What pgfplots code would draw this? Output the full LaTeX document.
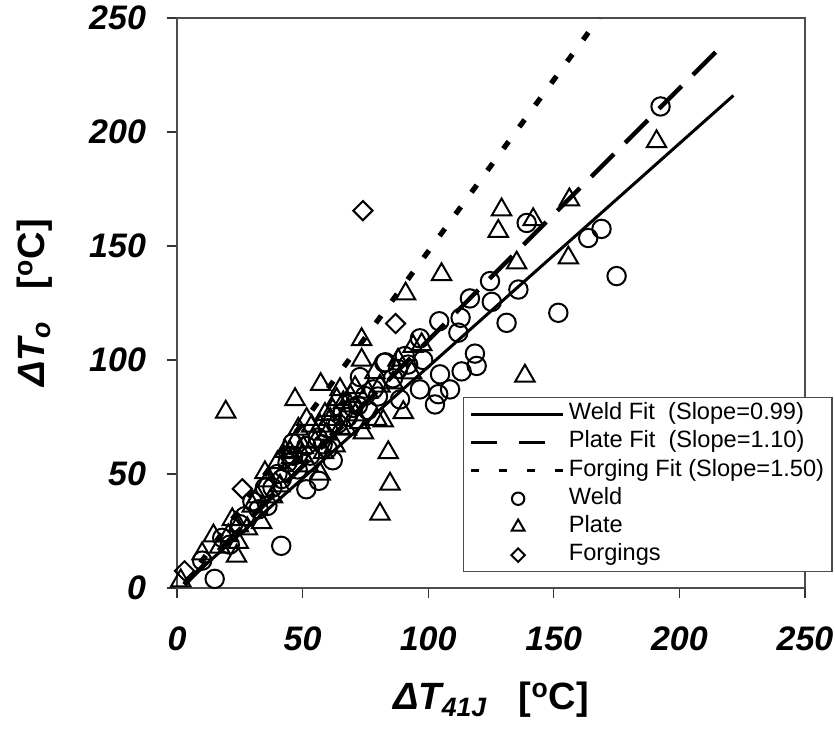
\documentclass[border=0pt]{standalone}
\usepackage{fontspec}
\setmainfont{Liberation Sans}
\usepackage{pgfplots}
\pgfplotsset{compat=1.18}
\pgfplotsset{
  markleg/.style={legend image code/.code={\draw[##1, mark size=#1] plot coordinates {(23.5pt,0pt)};}},
}

\begin{document}
\begin{tikzpicture}
\begin{axis}[
    width=314pt, height=285pt, scale only axis,
    xmin=0, xmax=250, ymin=0, ymax=250,
    xtick={0,50,...,250}, ytick={0,50,...,250},
    tick pos=left, tick align=outside,
    major tick length=5pt,
    axis line style={black!70, line width=0.6pt},
    every tick/.style={black!80, line width=0.6pt},
    /pgf/number format/assume math mode=true,
    tick label style={font=\fontsize{17}{18}\selectfont\bfseries\itshape},
    yticklabel style={xshift=-7pt},
    xticklabel style={yshift=-11pt},
    xlabel={\fontsize{19}{21}\selectfont\bfseries\itshape ΔT\textsubscript{41J}\upshape\ \ \ [\textsuperscript{o}C]},
    ylabel={\fontsize{19}{21}\selectfont\bfseries\itshape ΔT\textsubscript{o}\upshape\ \ \ [\textsuperscript{o}C]},
    xlabel style={at={(0.5,0)}, anchor=center, yshift=-56pt},
    ylabel style={at={(0,0.5)}, anchor=center, yshift=71pt},
    legend cell align=left,
    legend style={
        at={(0.455,0.335)}, anchor=north west,
        draw=black!70, line width=0.6pt,
        font=\fontsize{11.8}{12}\selectfont,
        inner xsep=3pt, inner ysep=2pt,
        row sep=1.6pt,
        nodes={inner sep=1pt, text height=8pt, text depth=2.5pt},
    },
]

% fitted lines
\addplot[black, line width=1.5pt,
    legend image code/.code={\draw[black, line width=1.5pt] (0pt,0pt) -- (46pt,0pt);}]
    coordinates {(3,2) (221.5,216)};
\addlegendentry{Weld Fit\ \ (Slope=0.99)}

\addplot[black, line width=2.2pt, dash pattern=on 16pt off 8pt,
    legend image code/.code={\draw[black, line width=1.8pt, dash pattern=on 13pt off 11pt] (0pt,0pt) -- (37pt,0pt);}]
    coordinates {(3,1.5) (218,239)};
\addlegendentry{Plate Fit\ \ (Slope=1.10)}

\addplot[black, line width=2.6pt, dash pattern=on 4.5pt off 9pt,
    legend image code/.code={\draw[black, line width=1.8pt, dash pattern=on 4pt off 10pt] (0pt,0pt) -- (47pt,0pt);}]
    coordinates {(3,1.5) (168,250)};
\addlegendentry{Forging Fit (Slope=1.50)}

% Weld
\addplot[only marks, mark=o, mark size=4.6pt,
    mark options={fill=white, draw=black, line width=1pt},
    markleg=3.1pt]
    coordinates {
    (15,4) (41.5,18.5) (21,19) (27,31.5) (32.5,34.5) (46,63.5) (51.5,62.3)
    (51.5,43.3) (56.5,47) (41.7,47.8) (46.3,58) (38,44) (56,66) (62,56)
    (72.8,92.5) (74.8,84.2) (70.2,79) (78.2,87.1) (82.5,98.8) (88.8,82.7)
    (90.7,101.7) (96.7,109.5) (96.7,87.1) (102.7,80.5) (104,85) (104.4,117)
    (104.7,93.7) (108.7,87.1) (112,112) (112.9,118.5) (113.3,95) (116.6,127)
    (118.6,102.8) (119.3,97.4) (124.6,134.6) (125.3,125.5) (131.2,116.3)
    (135.9,130.9) (139.2,160.1) (151.8,120.7) (163.7,153.5) (169,157.5)
    (175,136.8) (192.5,211.2) (83,99) (66,77)
    (30,38) (35,44) (40,50) (44,55) (48,52) (53,58) (58,63) (60,70) (64,72)
    (68,75) (72,80) (76,78) (80,84) (86,92) (88,96) (92,98) (98,100)
    (25,28) (18,22) (10,12) (36,36) (60,61)
    };
\addlegendentry{Weld}

% Plate
\addplot[only marks, mark=triangle, mark size=5.6pt,
    mark options={fill=white, draw=black, line width=1pt},
    markleg=3.7pt]
    coordinates {
    (1.5,3.2) (14.5,22.9) (23.7,14) (24.4,20) (20.4,23) (24.4,27.3) (28,26)
    (33.7,28.7) (35,50.6) (41,44.8) (38,40) (45,59.4) (47,82.7) (48.3,69.7)
    (50.3,61.6) (51.6,74) (52.3,53.6) (53.6,71) (45.6,57.2) (57.2,89.3)
    (58.3,59.4) (58.9,76.2) (59.6,67.5) (62.9,62.4) (63.6,82.7) (64.9,87.1)
    (66.2,81.3) (67.5,69.7) (68.9,79.9) (70.9,87.9) (72.8,72.6) (73.5,100)
    (73.5,109) (74.2,68.1) (78.8,94.5) (79.5,74) (80.8,32.4) (80.8,88.6)
    (82.1,73.3) (84.1,59.4) (84.8,45.6) (90.1,77) (91,129) (93.4,94.4)
    (94,106) (97.4,106.8) (105.3,137.5) (127.9,156.5) (129.2,165.9)
    (135.2,142.6) (138.5,93) (141.8,161.6) (155.8,144.8) (156.2,170.3)
    (190.9,195.8) (19.4,77.2)
    (10,15) (17,18) (22,30) (30,36) (32,40) (36,47) (40,55) (43,60) (47,64)
    (50,58) (55,64) (57,71) (61,74) (62,78) (65,70) (69,84) (71,76) (76,86)
    (86,90) (88,100) (57,50)
    };
\addlegendentry{Plate}

% Forgings
\addplot[only marks, mark=square, mark size=3.4pt,
    mark options={fill=white, draw=black, line width=1pt, rotate=45},
    markleg=2.4pt]
    coordinates {
    (3,7.5) (26,43.5) (43,50.5) (87,116) (74,165.5)
    };
\addlegendentry{Forgings}

\end{axis}
\pgfresetboundingbox
\path[use as bounding box] (-88.5pt,-74.5pt) rectangle (329pt,294pt);
\end{tikzpicture}
\end{document}
